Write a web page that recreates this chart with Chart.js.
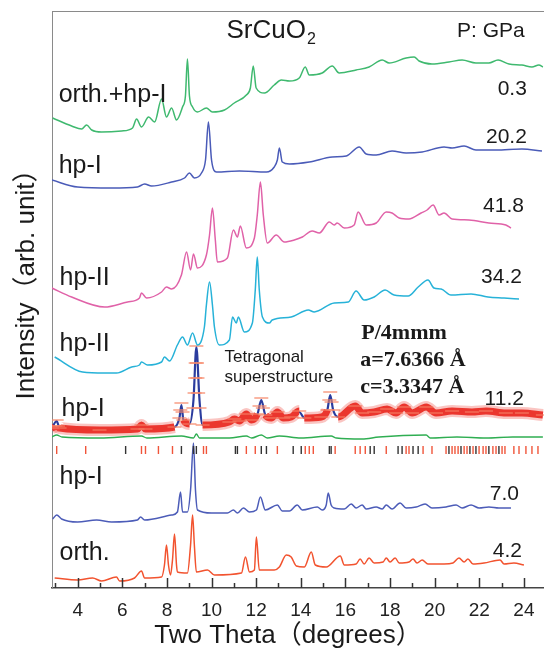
<!DOCTYPE html>
<html>
<head>
<meta charset="utf-8">
<script src="https://cdn.jsdelivr.net/npm/chart.js@4.4.1/dist/chart.umd.min.js"></script>
<style>
  html, body { margin: 0; padding: 0; background: #fff; }
  #wrap { width: 544px; height: 648px; }
</style>
</head>
<body>
<div id="wrap"><canvas id="xrd" width="544" height="648"></canvas></div>
<script>
// --- data: [two theta (deg), intensity (arb., stacked offset included)] ---
const p03 = [[2.88,470],[3.73,462],[4.18,459],[4.40,463],[4.63,458],[5.07,456],[5.97,457],[6.46,460],[6.64,469],[6.86,461],
  [7.18,471],[7.45,466],[7.76,489],[7.98,471],[8.21,480],[8.43,468],[8.70,481],[8.83,492],[8.92,529],[9.01,492],[9.15,481],
  [9.37,476],[9.77,480],[10.04,476],[10.58,478],[11.02,485],[11.56,493],[11.74,500],[11.87,522],[12.00,500],[12.37,495],
  [12.81,503],[13.13,508],[13.49,507],[13.93,510],[14.20,521],[14.38,513],[14.96,515],[15.41,522],[15.72,515],[16.48,518],
  [17.06,521],[17.65,528],[17.96,525],[18.72,530],[19.08,531],[19.30,527],[19.88,524],[20.64,526],[21.23,528],[21.85,525],
  [22.43,525],[22.84,528],[23.33,524],[23.91,523],[24.36,521],[24.67,523],[24.85,521]];
const p202 = [[2.84,408],[4.00,401],[5.52,400],[6.68,401],[7.00,404],[7.31,402],[8.21,406],[8.79,410],[9.01,415],[9.23,410],
  [9.55,415],[9.73,428],[9.86,466],[10.00,428],[10.22,416],[11.25,417],[12.46,416],[12.81,421],[12.95,428],[13.04,440],
  [13.17,426],[13.49,424],[14.38,426],[15.41,431],[16.04,432],[16.62,441],[16.93,434],[17.38,433],[18.09,437],[18.72,435],
  [19.44,436],[20.42,441],[20.78,440],[21.32,442],[21.85,438],[22.75,438],[23.91,439],[24.81,437]];
const p418 = [[2.84,300],[3.73,291],[5.21,281],[6.24,286],[6.77,290],[6.86,295],[7.09,290],[7.76,296],[7.98,301],[8.21,299],
  [8.65,313],[8.88,336],[9.06,318],[9.19,334],[9.37,320],[9.77,333],[9.91,353],[10.04,380],[10.17,348],[10.26,326],
  [10.71,330],[10.98,358],[11.16,351],[11.29,362],[11.56,340],[11.92,350],[12.05,373],[12.19,406],[12.32,373],[12.50,345],
  [12.90,353],[13.26,346],[13.71,348],[14.07,351],[14.51,357],[14.83,355],[15.28,366],[15.50,363],[15.63,365],[15.95,360],
  [16.39,363],[16.57,376],[16.93,363],[17.38,365],[17.83,376],[18.09,375],[18.41,370],[18.85,369],[19.39,375],[19.66,378],
  [19.93,383],[20.20,373],[20.42,375],[20.78,369],[21.54,368],[22.43,365],[23.19,363],[23.42,360]];
const p342 = [[2.97,231],[4.22,216],[5.21,215],[5.74,215],[6.42,221],[6.77,223],[6.86,226],[7.13,223],[7.76,226],[7.89,231],
  [8.12,227],[8.47,243],[8.70,251],[8.92,243],[9.15,255],[9.37,243],[9.68,261],[9.77,283],[9.91,306],[10.04,283],[10.13,261],
  [10.35,243],[10.80,248],[10.94,271],[11.11,265],[11.20,271],[11.47,256],[11.83,265],[11.96,298],[12.05,331],[12.14,298],
  [12.28,271],[12.59,265],[12.72,268],[13.57,271],[14.34,278],[14.60,276],[15.50,285],[16.13,286],[16.48,297],[16.84,288],
  [17.29,291],[17.78,298],[18.18,293],[18.81,292],[19.26,301],[19.70,308],[19.97,300],[20.29,299],[20.73,293],[21.63,294],
  [22.39,291],[23.11,290],[23.78,289]];
// 11.2 GPa refinement: observed, calculated, difference
const obs112 = [[2.84,160],[3.00,162],[3.06,168],[3.12,162],[3.19,160],[4.98,158],[6.68,159],[6.86,163],[7.04,159],[8.34,161],
  [8.56,170],[8.60,178],[8.65,185],[8.70,176],[8.74,168],[9.01,164],[9.19,180],[9.24,195],[9.27,210],[9.29,225],[9.32,242],
  [9.35,225],[9.37,210],[9.40,195],[9.46,180],[9.60,163],[10.80,166],[11.02,169],[11.25,167],[11.56,174],[11.79,168],
  [12.05,174],[12.15,182],[12.23,190],[12.30,180],[12.41,173],[12.68,170],[12.95,176],[13.22,170],[13.57,171],[13.93,177],
  [14.16,170],[14.92,171],[15.19,178],[15.28,188],[15.32,196],[15.38,186],[15.45,178],[15.68,171],[16.44,182],[16.75,175],
  [17.29,176],[17.87,179],[18.27,175],[18.63,181],[18.99,175],[19.62,181],[20.06,175],[20.78,177],[21.67,176],[22.30,177],
  [23.19,175],[23.91,175],[24.85,173]];
const calc112 = [[2.84,160],[3.06,167],[3.19,160],[4.98,158],[6.68,159],[6.86,162],[7.04,159],[8.34,161],[8.56,170],[8.65,183],
  [8.74,168],[9.01,164],[9.19,188],[9.32,241],[9.46,188],[9.60,163],[10.80,166],[11.02,169],[11.25,167],[11.56,173],
  [11.79,168],[12.05,173],[12.23,188],[12.41,173],[12.68,170],[12.95,175],[13.22,170],[13.57,171],[13.93,176],[14.16,170],
  [14.92,171],[15.19,178],[15.32,193],[15.45,178],[15.68,171],[16.44,181],[16.75,175],[17.29,176],[17.87,178],[18.27,175],
  [18.63,180],[18.99,175],[19.62,180],[20.06,175],[20.78,177],[21.67,176],[22.30,177],[23.19,175],[23.91,175],[24.85,173]];
const diff112 = [[2.84,151],[3.06,153],[3.30,151],[5.00,150],[6.86,152],[7.10,150],[8.65,152],[9.19,150],[9.32,154],[9.46,150],
  [10.80,150],[11.56,152],[11.80,150],[12.23,153],[12.50,150],[13.04,152],[14.00,150],[15.36,152],[15.60,150],[16.75,149],
  [17.50,151],[19.62,153],[19.80,150],[21.00,151],[22.30,150],[23.50,151],[24.85,151]];
// Bragg reflection positions (two phases)
const reflRed = [3.06,4.36,6.86,7.04,7.62,8.25,9.64,9.77,11.56,11.96,12.95,14.20,14.38,14.56,15.54,16.44,16.66,16.89,17.83,
  18.72,18.85,19.48,19.88,20.51,20.78,20.91,21.05,21.32,21.45,21.72,21.99,22.17,22.30,22.61,22.75,23.02,23.15,23.55,23.78,
  24.09,24.36,24.63];
const reflBlack = [6.15,8.65,9.19,9.32,11.07,11.16,12.23,12.46,13.66,14.02,15.28,15.36,17.11,17.29,18.36,18.54,19.03,19.26,
  20.64,21.18,21.58,21.85,22.43,22.88];
const p70 = [[2.88,69],[3.06,73],[3.28,69],[4.00,66],[4.85,68],[5.52,66],[6.68,68],[6.82,71],[7.00,68],[8.21,73],[8.47,76],
  [8.61,96],[8.70,76],[8.92,76],[9.06,98],[9.19,145],[9.28,98],[9.37,78],[10.00,75],[10.71,75],[10.98,78],[11.16,75],
  [11.43,80],[11.70,76],[12.01,78],[12.19,91],[12.41,78],[12.95,83],[13.17,77],[13.49,77],[13.84,83],[14.07,78],[14.74,81],
  [14.96,78],[15.14,83],[15.23,95],[15.36,83],[15.50,80],[15.95,79],[16.26,84],[16.48,80],[16.75,83],[16.93,79],[17.38,81],
  [17.65,79],[17.83,83],[18.09,79],[18.45,85],[18.72,80],[19.17,81],[19.57,84],[19.88,80],[20.51,81],[20.96,83],[21.23,80],
  [21.63,83],[21.99,80],[22.43,81],[22.88,80],[23.42,80]];
const p42 = [[2.97,10],[4.00,8],[4.67,10],[5.07,7],[5.74,11],[5.88,7],[6.55,10],[6.86,17],[7.00,10],[7.76,11],[7.89,23],
  [7.98,43],[8.07,23],[8.16,13],[8.25,28],[8.34,54],[8.43,23],[8.47,16],[8.92,15],[9.06,43],[9.15,73],[9.23,43],[9.32,16],
  [9.82,18],[10.13,13],[11.34,15],[11.52,31],[11.70,16],[11.92,18],[12.01,51],[12.14,18],[12.81,18],[13.04,21],[13.35,33],
  [13.57,31],[13.80,22],[14.16,21],[14.47,36],[14.65,23],[15.14,21],[15.77,32],[15.95,23],[16.48,24],[16.66,29],[16.84,24],
  [17.06,30],[17.29,25],[17.69,26],[17.83,30],[18.00,26],[18.23,30],[18.41,25],[18.85,26],[19.03,29],[19.21,25],[19.44,28],
  [19.70,24],[20.42,24],[20.82,25],[21.09,30],[21.32,26],[21.49,29],[21.72,24],[22.21,25],[22.93,28],[23.11,24],[23.55,25],
  [24.00,23]];

const SANS = '"Liberation Sans", Arial, "Noto Sans CJK SC", sans-serif';
const SERIF = '"Liberation Serif", "Times New Roman", serif';

// text labels, placed in data coordinates
const notes = [
  { t: 'orth.+hp-I', x: 3.15, y: 486, size: 25 },
  { t: 'hp-I', x: 3.15, y: 415, size: 25 },
  { t: 'hp-II', x: 3.19, y: 303, size: 25 },
  { t: 'hp-II', x: 3.19, y: 237, size: 25 },
  { t: 'hp-I', x: 3.28, y: 172, size: 25 },
  { t: 'hp-I', x: 3.19, y: 104, size: 25 },
  { t: 'orth.', x: 3.19, y: 28, size: 25 },
  { t: '0.3', x: 24.13, y: 493, size: 21, align: 'right' },
  { t: '20.2', x: 24.13, y: 445, size: 21, align: 'right' },
  { t: '41.8', x: 24.00, y: 376, size: 21, align: 'right' },
  { t: '34.2', x: 23.91, y: 305, size: 21, align: 'right' },
  { t: '11.2', x: 24.00, y: 183, size: 21, align: 'right' },
  { t: '7.0', x: 23.78, y: 88, size: 21, align: 'right' },
  { t: '4.2', x: 23.91, y: 31, size: 21, align: 'right' },
  { t: 'P: GPa', x: 21.00, y: 551, size: 21 },
  { t: 'Tetragonal', x: 10.58, y: 226, size: 17 },
  { t: 'superstructure', x: 10.58, y: 206, size: 17 },
  { t: 'P/4mmm', x: 16.71, y: 249, size: 22, bold: true, serif: true },
  { t: 'a=7.6366 Å', x: 16.66, y: 222, size: 22, bold: true, serif: true },
  { t: 'c=3.3347 Å', x: 16.66, y: 195, size: 22, bold: true, serif: true }
];

function line(pts, color, width) {
  return {
    data: pts.map(p => ({ x: p[0], y: p[1] })),
    borderColor: color, borderWidth: width || 1.5,
    pointRadius: 0, cubicInterpolationMode: 'monotone', fill: false
  };
}
function refl(xs, color) {
  return {
    data: xs.map(v => ({ x: v, y: 138 })),
    showLine: false, pointStyle: 'line', rotation: 90,
    pointRadius: 4, pointBorderWidth: 1.4,
    borderColor: color, backgroundColor: color
  };
}
// the observed band is only drawn where the pattern is flat; on peak flanks only the markers show
const steep = c => Math.abs(c.p1.y - c.p0.y) > 5 && Math.abs(c.p1.y - c.p0.y) > 1.2 * Math.abs(c.p1.x - c.p0.x);

const obsHalo = line(obs112, 'rgba(240,90,80,0.35)', 12);
obsHalo.segment = { borderColor: c => steep(c) ? 'rgba(0,0,0,0)' : undefined };
const obsBand = line(obs112, '#e8241d', 7);
obsBand.segment = { borderColor: c => steep(c) ? 'rgba(0,0,0,0)' : undefined };
obsBand.pointRadius = 7;
obsBand.pointStyle = 'line';
obsBand.pointBorderWidth = 1.3;
obsBand.pointBorderColor = 'rgba(246,135,105,0.95)';

const frame = {
  id: 'frame',
  afterDraw(chart) {
    const { ctx, chartArea: a, scales } = chart;
    ctx.save();
    // top border
    ctx.strokeStyle = '#8a8a8a';
    ctx.lineWidth = 1;
    ctx.beginPath(); ctx.moveTo(a.left, a.top + 0.5); ctx.lineTo(a.right, a.top + 0.5); ctx.stroke();
    // inward ticks
    ctx.strokeStyle = '#333';
    ctx.lineWidth = 1.5;
    for (let v = 3; v <= 24; v++) {
      const x = Math.round(scales.x.getPixelForValue(v)) + 0.5;
      const len = v % 2 === 0 ? 10 : 5;
      ctx.beginPath(); ctx.moveTo(x, a.bottom); ctx.lineTo(x, a.bottom - len); ctx.stroke();
    }
    // labels
    ctx.fillStyle = '#1a1a1a';
    ctx.textBaseline = 'alphabetic';
    notes.forEach(n => {
      ctx.font = (n.bold ? 'bold ' : '') + n.size + 'px ' + (n.serif ? SERIF : SANS);
      ctx.textAlign = n.align || 'left';
      ctx.fillText(n.t, scales.x.getPixelForValue(n.x), scales.y.getPixelForValue(n.y));
    });
    // title SrCuO2
    const tx = scales.x.getPixelForValue(10.67), ty = scales.y.getPixelForValue(550);
    ctx.textAlign = 'left';
    ctx.font = '26px ' + SANS;
    ctx.fillText('SrCuO', tx, ty);
    const w = ctx.measureText('SrCuO').width;
    ctx.font = '16px ' + SANS;
    ctx.fillText('2', tx + w + 1, ty + 6);
    // axis titles
    ctx.font = '26px ' + SANS;
    ctx.textAlign = 'center';
    ctx.textBaseline = 'middle';
    ctx.fillText('Two Theta（degrees）', 288, 636);
    ctx.translate(27, 278);
    ctx.rotate(-Math.PI / 2);
    ctx.fillText('Intensity（arb. unit）', 0, 0);
    ctx.restore();
  }
};

new Chart(document.getElementById('xrd'), {
  type: 'line',
  data: {
    datasets: [
      line(p03, '#3fb96f'),
      line(p202, '#4a5bb8'),
      line(p418, '#e062a8'),
      line(p342, '#27b2d8'),
      obsHalo, obsBand,
      line(calc112, '#2b3c9e', 2.2),
      line(diff112, '#2fae52', 1.4),
      refl(reflRed, '#f0553a'),
      refl(reflBlack, '#333333'),
      line(p70, '#4c5cb8'),
      line(p42, '#f2532f')
    ]
  },
  options: {
    responsive: false,
    animation: false,
    devicePixelRatio: 1,
    layout: { autoPadding: false, padding: { top: 11, right: 0, left: 0, bottom: 0 } },
    plugins: { legend: { display: false }, tooltip: { enabled: false } },
    scales: {
      x: {
        type: 'linear', min: 2.85, max: 24.9,
        afterFit: s => { s.height = 60; s.paddingRight = 0; },
        grid: { display: false },
        border: { display: true, color: '#444', width: 1.5 },
        ticks: {
          stepSize: 1, padding: 3, color: '#222', autoSkip: false, maxRotation: 0, includeBounds: false,
          font: { family: SANS, size: 19 },
          callback: v => (v % 2 === 0) ? String(v) : ''
        }
      },
      y: {
        min: 0, max: 577,
        afterFit: s => { s.width = 52; },
        grid: { display: false },
        border: { display: true, color: '#8a8a8a', width: 1 },
        ticks: { display: false }
      }
    }
  },
  plugins: [frame]
});
</script>
</body>
</html>
